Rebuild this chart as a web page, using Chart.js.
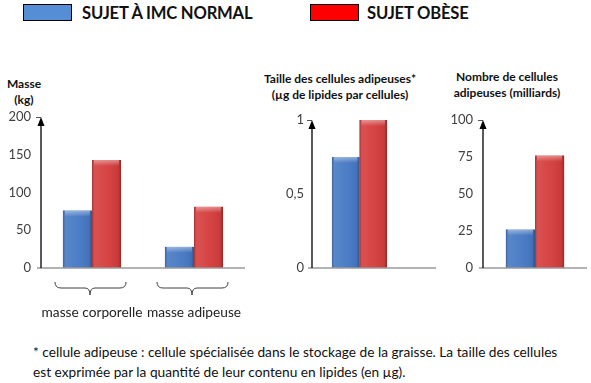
<!DOCTYPE html>
<html><head><meta charset="utf-8">
<script src="https://cdn.jsdelivr.net/npm/chart.js@4/dist/chart.umd.min.js"></script>
<style>
html,body{margin:0;padding:0;background:#fff;}
#wrap{position:relative;width:591px;height:383px;overflow:hidden;font-family:Lato,"Open Sans",sans-serif;}
canvas{position:absolute;}
.leg{position:absolute;top:4px;height:17px;box-sizing:border-box;border:1px solid #000;width:49px;}
.legt{position:absolute;top:2px;font:bold 16.6px Lato,sans-serif;color:#111;white-space:nowrap;line-height:22px;letter-spacing:-0.2px;}
.ttl{position:absolute;font:bold 12px Lato,sans-serif;color:#111;text-align:center;line-height:16px;white-space:nowrap;}
#note{position:absolute;left:33px;top:342px;font:13.7px Lato,sans-serif;color:#111;line-height:20px;white-space:nowrap;}
</style></head>
<body><div id="wrap">
<div class="leg" id="lb1" style="left:23px;background:#558ed5"></div><div class="legt" id="lt1" style="left:82px"></div>
<div class="leg" id="lb2" style="left:310px;background:#ff0000"></div><div class="legt" id="lt2" style="left:367px"></div>
<div class="ttl" style="left:0px;top:76px;width:48px">Masse<br>(kg)</div>
<div class="ttl" style="left:240px;top:71px;width:200px">Taille des cellules adipeuses*<br>(µg de lipides par cellules)</div>
<div class="ttl" style="left:432px;top:69px;width:150px">Nombre de cellules<br>adipeuses (milliards)</div>
<canvas id="c1" width="250" height="230" style="left:0;top:100px"></canvas>
<canvas id="c2" width="180" height="180" style="left:260px;top:100px"></canvas>
<canvas id="c3" width="161" height="180" style="left:430px;top:100px"></canvas>
<div id="note">* cellule adipeuse : cellule spécialisée dans le stockage de la graisse. La taille des cellules<br>est exprimée par la quantité de leur contenu en lipides (en µg).</div>
</div>
<script>
// ---- data ----
const seriesNames = ['SUJET À IMC NORMAL', 'SUJET OBÈSE'];
const masseCategories = ['masse corporelle', 'masse adipeuse'];
const masseNormal = [76, 28];
const masseObese = [143, 81];
const tailleNormal = [0.75];
const tailleObese = [1.0];
const nombreNormal = [26];
const nombreObese = [76];
const masseTicks = ['0', '50', '100', '150', '200'];
const tailleTicks = ['0', '0,5', '1'];
const nombreTicks = ['0', '25', '50', '75', '100'];

document.getElementById('lt1').textContent = seriesNames[0];
document.getElementById('lt2').textContent = seriesNames[1];

const BLUE = '#4679c4', RED = '#d53d3d';

const shade = {
  id: 'shade',
  afterDatasetsDraw(chart) {
    const ctx = chart.ctx;
    chart.data.datasets.forEach((ds, i) => {
      chart.getDatasetMeta(i).data.forEach(el => {
        const w = el.width, l = el.x - w / 2, t = el.y, h = el.base - el.y;
        if (h <= 0) return;
        ctx.save();
        let g = ctx.createLinearGradient(l, 0, l + w, 0);
        g.addColorStop(0, 'rgba(0,0,0,0.22)');
        g.addColorStop(0.1, 'rgba(255,255,255,0.10)');
        g.addColorStop(0.5, 'rgba(255,255,255,0.04)');
        g.addColorStop(0.9, 'rgba(0,0,0,0.06)');
        g.addColorStop(1, 'rgba(0,0,0,0.32)');
        ctx.fillStyle = g; ctx.fillRect(l, t, w, h);
        g = ctx.createLinearGradient(0, t, 0, t + 6);
        g.addColorStop(0, 'rgba(255,255,255,0.40)');
        g.addColorStop(1, 'rgba(255,255,255,0)');
        ctx.fillStyle = g; ctx.fillRect(l + 2, t, w - 4, Math.min(6, h));
        ctx.restore();
      });
    });
  }
};

const axes = {
  id: 'axes',
  afterDraw(chart, args, opts) {
    const ctx = chart.ctx, a = chart.chartArea;
    const yz = chart.scales.y.getPixelForValue(0);
    const yt = chart.scales.y.getPixelForValue(chart.scales.y.max);
    ctx.save();
    ctx.strokeStyle = '#9a9a9a'; ctx.lineWidth = 1.5;
    ctx.beginPath(); ctx.moveTo(a.left - 4, yz); ctx.lineTo(a.right + (opts.extend || 0), yz); ctx.stroke();
    ctx.strokeStyle = '#000'; ctx.lineWidth = 1.3;
    ctx.beginPath(); ctx.moveTo(a.left, yz); ctx.lineTo(a.left, yt + 4); ctx.stroke();
    ctx.lineWidth = 1;
    ctx.strokeStyle = '#555';
    ctx.beginPath(); ctx.moveTo(a.left - 5, yt + 0.5); ctx.lineTo(a.left, yt + 0.5); ctx.stroke();
    ctx.fillStyle = '#000';
    ctx.beginPath(); ctx.moveTo(a.left, yt); ctx.lineTo(a.left - 3.5, yt + 9); ctx.lineTo(a.left + 3.5, yt + 9); ctx.closePath(); ctx.fill();
    if (opts.braces) {
      const top = yz + 14;
      ctx.strokeStyle = '#404040'; ctx.lineWidth = 1;
      chart.scales.x.ticks.forEach((t, i) => {
        const m = chart.scales.x.getPixelForValue(i) - 2, L = m - 35, R = m + 36;
        ctx.beginPath();
        ctx.moveTo(L, top);
        ctx.quadraticCurveTo(L, top + 6, L + 6, top + 6);
        ctx.lineTo(m - 5, top + 6);
        ctx.quadraticCurveTo(m, top + 6, m, top + 13);
        ctx.quadraticCurveTo(m, top + 6, m + 5, top + 6);
        ctx.lineTo(R - 6, top + 6);
        ctx.quadraticCurveTo(R, top + 6, R, top);
        ctx.stroke();
      });
    }
    ctx.restore();
  }
};

function makeChart(id, labels, d1, d2, max, step, tickLabels, yWidth, tickPad, padding, catPct, extend, showX) {
  return new Chart(document.getElementById(id), {
    type: 'bar',
    data: {
      labels: labels,
      datasets: [
        { label: seriesNames[0], data: d1, backgroundColor: BLUE, borderWidth: 0 },
        { label: seriesNames[1], data: d2, backgroundColor: RED, borderWidth: 0 }
      ]
    },
    options: {
      responsive: false, animation: false,
      layout: { padding: padding },
      categoryPercentage: catPct, barPercentage: 1.0,
      plugins: { legend: { display: false }, tooltip: { enabled: false },
        axes: { extend: extend, braces: showX } },
      scales: {
        x: {
          grid: { display: false, drawTicks: false }, border: { display: false },
          ticks: { display: showX, padding: 36, color: '#222', maxRotation: 0, minRotation: 0, autoSkip: false,
            font: { family: 'Lato', size: 13.7 } },
          afterFit: s => { s.height = showX ? 62 : 0; s.paddingLeft = 0; s.paddingRight = 0; }
        },
        y: {
          min: 0, max: max,
          grid: { display: false, drawTicks: false }, border: { display: false },
          ticks: { stepSize: step, padding: tickPad, color: '#404040', font: { family: 'Lato', size: 13 },
            callback: (v, i) => tickLabels[i] },
          afterFit: s => { s.width = yWidth; s.paddingTop = 0; s.paddingBottom = 0; }
        }
      }
    },
    plugins: [shade, axes]
  });
}

makeChart('c1', masseCategories, masseNormal, masseObese, 200, 50, masseTicks, 41, 10,
  { top: 17, right: 5, left: 0, bottom: 0 }, 0.57, 0, true);
makeChart('c2', [''], tailleNormal, tailleObese, 1, 0.5, tailleTicks, 52, 8,
  { top: 20, right: 33, left: 0, bottom: 12 }, 0.58, 29, false);
makeChart('c3', [''], nombreNormal, nombreObese, 100, 25, nombreTicks, 53, 10,
  { top: 20, right: 4, left: 0, bottom: 12 }, 0.56, 0, false);
</script>
</body></html>
